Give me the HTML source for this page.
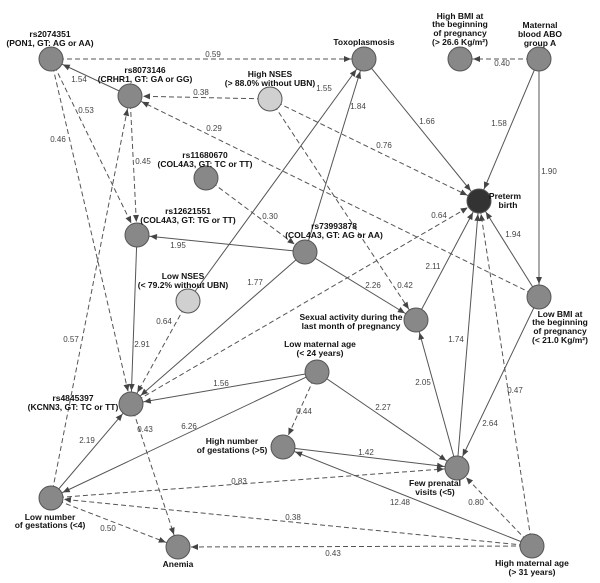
<!DOCTYPE html>
<html><head><meta charset="utf-8"><style>
html,body{margin:0;padding:0;background:#fff}
svg{display:block}
.e{stroke:#555;stroke-width:1;fill:none;marker-end:url(#ah)}
.d{stroke-dasharray:5,3}
.n{fill:#888;stroke:#555;stroke-width:1}
.l{font:bold 8.5px "Liberation Sans",sans-serif;fill:#111;text-anchor:middle}
.w{font:8px "Liberation Sans",sans-serif;fill:#444;text-anchor:middle}
</style></head><body>
<svg width="600" height="583" viewBox="0 0 600 583" xmlns="http://www.w3.org/2000/svg">
<defs><marker id="ah" markerUnits="userSpaceOnUse" markerWidth="30" markerHeight="12" refX="13" refY="0" viewBox="-10 -6 30 12" orient="auto"><path d="M-7,-3 L0,0 L-7,3 Z" fill="#444"/></marker></defs>
<g>
<line class="e d" x1="51" y1="59" x2="364" y2="59"/>
<line class="e" x1="130" y1="96" x2="51" y2="59"/>
<line class="e d" x1="270" y1="99" x2="130" y2="96"/>
<line class="e d" x1="539" y1="297" x2="130" y2="96"/>
<line class="e d" x1="270" y1="99" x2="479" y2="201"/>
<line class="e d" x1="270" y1="99" x2="416" y2="320"/>
<line class="e d" x1="51" y1="59" x2="137" y2="235"/>
<line class="e d" x1="51" y1="59" x2="131" y2="404"/>
<line class="e d" x1="130" y1="96" x2="137" y2="235"/>
<line class="e d" x1="51" y1="498" x2="130" y2="96"/>
<line class="e d" x1="206" y1="178" x2="305" y2="252"/>
<line class="e" x1="305" y1="252" x2="137" y2="235"/>
<line class="e" x1="305" y1="252" x2="364" y2="59"/>
<line class="e" x1="188" y1="301" x2="364" y2="59"/>
<line class="e" x1="305" y1="252" x2="131" y2="404"/>
<line class="e" x1="305" y1="252" x2="416" y2="320"/>
<line class="e" x1="137" y1="235" x2="131" y2="404"/>
<line class="e d" x1="188" y1="301" x2="131" y2="404"/>
<line class="e" x1="51" y1="498" x2="131" y2="404"/>
<line class="e" x1="317" y1="372" x2="131" y2="404"/>
<line class="e" x1="317" y1="372" x2="51" y2="498"/>
<line class="e d" x1="317" y1="372" x2="283" y2="447"/>
<line class="e" x1="317" y1="372" x2="457" y2="468"/>
<line class="e" x1="283" y1="447" x2="457" y2="468"/>
<line class="e d" x1="51" y1="498" x2="457" y2="468"/>
<line class="e d" x1="131" y1="404" x2="479" y2="201"/>
<line class="e d" x1="532" y1="546" x2="51" y2="498"/>
<line class="e d" x1="532" y1="546" x2="178" y2="547"/>
<line class="e d" x1="51" y1="498" x2="178" y2="547"/>
<line class="e d" x1="131" y1="404" x2="178" y2="547"/>
<line class="e" x1="532" y1="546" x2="283" y2="447"/>
<line class="e d" x1="532" y1="546" x2="457" y2="468"/>
<line class="e d" x1="532" y1="546" x2="479" y2="201"/>
<line class="e" x1="457" y1="468" x2="416" y2="320"/>
<line class="e" x1="457" y1="468" x2="479" y2="201"/>
<line class="e" x1="416" y1="320" x2="479" y2="201"/>
<line class="e" x1="539" y1="297" x2="479" y2="201"/>
<line class="e" x1="539" y1="297" x2="457" y2="468"/>
<line class="e" x1="539" y1="59" x2="479" y2="201"/>
<line class="e" x1="539" y1="59" x2="539" y2="297"/>
<line class="e d" x1="539" y1="59" x2="460" y2="59"/>
<line class="e" x1="364" y1="59" x2="479" y2="201"/>
</g>
<g>
<circle class="n" cx="51" cy="59" r="12"/>
<circle class="n" cx="130" cy="96" r="12"/>
<circle class="n" cx="270" cy="99" r="12" style="fill:#d0d0d0"/>
<circle class="n" cx="206" cy="178" r="12"/>
<circle class="n" cx="137" cy="235" r="12"/>
<circle class="n" cx="305" cy="252" r="12"/>
<circle class="n" cx="364" cy="59" r="12"/>
<circle class="n" cx="460" cy="59" r="12"/>
<circle class="n" cx="539" cy="59" r="12"/>
<circle class="n" cx="479" cy="201" r="12" style="fill:#333"/>
<circle class="n" cx="188" cy="301" r="12" style="fill:#d0d0d0"/>
<circle class="n" cx="539" cy="297" r="12"/>
<circle class="n" cx="416" cy="320" r="12"/>
<circle class="n" cx="317" cy="372" r="12"/>
<circle class="n" cx="131" cy="404" r="12"/>
<circle class="n" cx="283" cy="447" r="12"/>
<circle class="n" cx="457" cy="468" r="12"/>
<circle class="n" cx="51" cy="498" r="12"/>
<circle class="n" cx="178" cy="547" r="12"/>
<circle class="n" cx="532" cy="546" r="12"/>
</g>
<g class="w">
<text x="213" y="57">0.59</text><text x="79" y="82">1.54</text><text x="86" y="113">0.53</text>
<text x="58" y="142">0.46</text><text x="201" y="95">0.38</text><text x="214" y="131">0.29</text>
<text x="143" y="164">0.45</text><text x="270" y="219">0.30</text><text x="178" y="248">1.95</text>
<text x="324" y="91">1.55</text><text x="358" y="109">1.84</text><text x="427" y="124">1.66</text>
<text x="499" y="126">1.58</text><text x="549" y="174">1.90</text><text x="502" y="66">0.40</text>
<text x="384" y="148">0.76</text><text x="439" y="218">0.64</text><text x="513" y="237">1.94</text>
<text x="433" y="269">2.11</text><text x="373" y="288">2.26</text><text x="405" y="288">0.42</text>
<text x="255" y="285">1.77</text><text x="164" y="324">0.64</text><text x="71" y="342">0.57</text>
<text x="142" y="347">2.91</text><text x="221" y="386">1.56</text><text x="189" y="429">6.26</text>
<text x="145" y="432">0.43</text><text x="87" y="443">2.19</text><text x="304" y="414">0.44</text>
<text x="383" y="410">2.27</text><text x="456" y="342">1.74</text><text x="423" y="385">2.05</text>
<text x="515" y="393">0.47</text><text x="490" y="426">2.64</text><text x="366" y="455">1.42</text>
<text x="239" y="484">0.83</text><text x="400" y="505">12.48</text><text x="476" y="505">0.80</text>
<text x="293" y="520">0.38</text><text x="108" y="531">0.50</text><text x="333" y="556">0.43</text>
</g>
<g class="l">
<text x="50" y="37">rs2074351</text><text x="50" y="46">(PON1, GT: AG or AA)</text>
<text x="145" y="73">rs8073146</text><text x="145" y="82">(CRHR1, GT: GA or GG)</text>
<text x="270" y="77">High NSES</text><text x="270" y="86">(&gt; 88.0% without UBN)</text>
<text x="205" y="158">rs11680670</text><text x="205" y="167">(COL4A3, GT: TC or TT)</text>
<text x="188" y="214">rs12621551</text><text x="188" y="223">(COL4A3, GT: TG or TT)</text>
<text x="334" y="229">rs73993878</text><text x="334" y="238">(COL4A3, GT: AG or AA)</text>
<text x="364" y="45">Toxoplasmosis</text>
<text x="460" y="19">High BMI at</text><text x="460" y="27">the beginning</text><text x="460" y="36">of pregnancy</text><text x="460" y="45">(&gt; 26.6 Kg/m²)</text>
<text x="540" y="28">Maternal</text><text x="540" y="37">blood ABO</text><text x="540" y="46">group A</text>
<text x="505" y="199">Preterm</text><text x="508" y="208">birth</text>
<text x="183" y="279">Low NSES</text><text x="183" y="288">(&lt; 79.2% without UBN)</text>
<text x="560" y="317">Low BMI at</text><text x="560" y="325">the beginning</text><text x="560" y="334">of pregnancy</text><text x="560" y="343">(&lt; 21.0 Kg/m²)</text>
<text x="351" y="320">Sexual activity during the</text><text x="351" y="329">last month of pregnancy</text>
<text x="320" y="347">Low maternal age</text><text x="320" y="356">(&lt; 24 years)</text>
<text x="73" y="401">rs4845397</text><text x="73" y="410">(KCNN3, GT: TC or TT)</text>
<text x="232" y="444">High number</text><text x="232" y="453">of gestations  (&gt;5)</text>
<text x="435" y="486">Few prenatal</text><text x="435" y="495">visits (&lt;5)</text>
<text x="50" y="520">Low number</text><text x="50" y="528">of gestations (&lt;4)</text>
<text x="178" y="567">Anemia</text>
<text x="532" y="566">High maternal age</text><text x="532" y="575">(&gt; 31 years)</text>
</g>
</svg>
</body></html>
